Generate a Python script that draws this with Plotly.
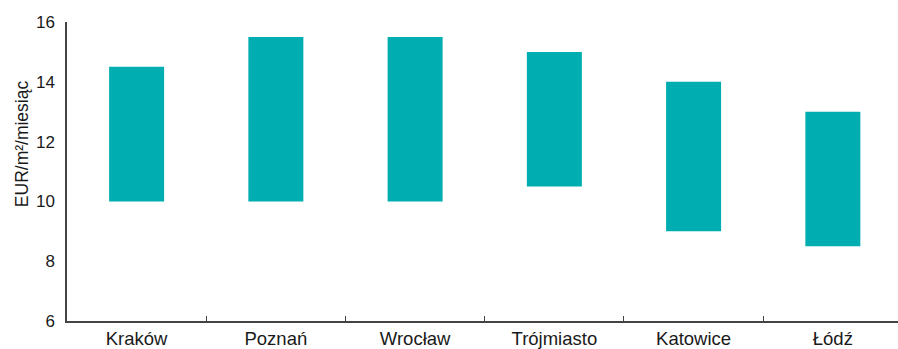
import plotly.graph_objects as go

cities = ["Kraków", "Poznań", "Wrocław", "Trójmiasto", "Katowice", "Łódź"]
low = [10, 10, 10, 10.5, 9, 8.5]
high = [14.5, 15.5, 15.5, 15, 14, 13]
y_ticks = [6, 8, 10, 12, 14, 16]

fig = go.Figure(go.Bar(
    x=cities,
    y=[h - l for h, l in zip(high, low)],
    base=low,
    marker=dict(color="#00ADB0", line=dict(width=0)),
    width=0.395,
    hoverinfo="skip",
))

font = "Liberation Sans, Arial, Helvetica, sans-serif"
L, R, T, B = 67, 0, 22, 26
W, H = 898, 349
pw, ph = W - L - R, H - T - B

fig.update_layout(
    width=W, height=H,
    margin=dict(l=L, r=R, t=T, b=B),
    plot_bgcolor="white", paper_bgcolor="white",
    showlegend=False,
    font=dict(family=font, size=16, color="#1a1a1a"),
    xaxis=dict(
        range=[-0.5, 5.468],
        showline=True, linecolor="#444444", linewidth=1.5,
        ticks="inside", tickson="boundaries", ticklen=5, tickcolor="#444444", tickwidth=1,
        showgrid=False, zeroline=False,
        tickfont=dict(size=18.5),
    ),
    yaxis=dict(
        range=[6, 16], tickvals=y_ticks,
        showline=True, linecolor="#444444", linewidth=1.5,
        ticks="", showgrid=False, zeroline=False,
        tickfont=dict(size=17),
        ticklabelstandoff=7,
    ),
    annotations=[dict(
        text="EUR/m²/miesiąc", textangle=-90,
        xref="paper", yref="paper",
        x=(22 - L) / pw, y=(T + ph - 145) / ph,
        xanchor="center", yanchor="middle",
        showarrow=False, font=dict(size=17.5),
    )],
)

fig.write_html("out.html")
